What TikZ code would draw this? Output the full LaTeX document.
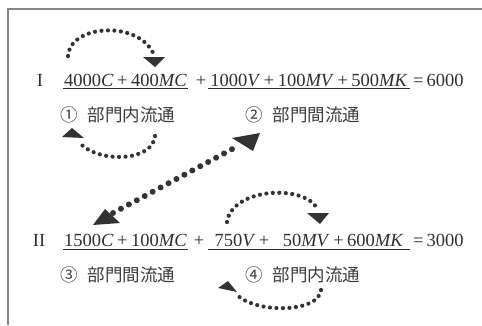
\documentclass[tikz,border=0pt]{standalone}
\usepackage{fontspec}
\setmainfont{Liberation Serif}
\newfontfamily\jpfont{Noto Sans CJK JP}
\definecolor{ink}{HTML}{2E2E2E}
\definecolor{jink}{HTML}{3A3A3A}
\definecolor{dotc}{HTML}{333333}
\definecolor{framec}{HTML}{858585}
\newcommand{\pl}{\hspace{3.5pt}+\hspace{3.5pt}}
\begin{document}
\begin{tikzpicture}[x=1pt,y=-1pt,
  eq/.style={inner sep=0pt, anchor=base, text=ink, font=\fontsize{18.5}{22}\selectfont},
  lbl/.style={inner sep=0pt, anchor=west, text=jink, font=\jpfont\fontsize{17.5}{20}\selectfont},
  uline/.style={draw=ink, line width=0.7pt},
  smalldots/.style={draw=dotc, line width=4.2pt, line cap=round, dash pattern=on 0pt off 6.5pt},
  bigdots/.style={draw=dotc, line width=6pt, line cap=round, dash pattern=on 0pt off 9pt},
  tip/.style={fill=dotc}]
\useasboundingbox (0,0) rectangle (482,325);
% frame
\draw[framec, line width=1.3pt] (8,325) -- (8,9) -- (482,9);

% Row I
\node[eq] (r1) at (40,86.5) {I};
\node[eq] (g1) at (125.5,86.5) {\makebox[125pt]{4000\textit{C}\pl400\textit{MC}}};
\node[eq] (p1) at (201,86.5) {+};
\node[eq] (g2) at (309,86.5) {\makebox[202pt]{1000\textit{V}\pl100\textit{MV}\pl500\textit{MK}}};
\node[eq, anchor=base west] (e1) at (413,86.5) {=\,6000};
\draw[uline] ([yshift=-2.3pt]g1.base west) -- ([yshift=-2.3pt]g1.base east);
\draw[uline] ([yshift=-2.3pt]g2.base west) -- ([yshift=-2.3pt]g2.base east);
\node[lbl] (l1) at (60,115) {①\hspace{10pt}部門内流通};
\node[lbl] (l2) at (245,115) {②\hspace{10pt}部門間流通};

% Row II
\node[eq] (r2) at (39,246.7) {II};
\node[eq] (g3) at (125.5,246.7) {\makebox[125pt]{1500\textit{C}\pl100\textit{MC}}};
\node[eq] (p2) at (199,246.7) {+};
\node[eq] (g4) at (309,246.7) {\makebox[202pt]{750\textit{V}\pl\hspace{10pt}50\textit{MV}\pl600\textit{MK}}};
\node[eq, anchor=base west] (e2) at (413,246.7) {=\,3000};
\draw[uline] ([yshift=-2.3pt]g3.base west) -- ([yshift=-2.3pt]g3.base east);
\draw[uline] ([yshift=-2.3pt]g4.base west) -- ([yshift=-2.3pt]g4.base east);
\node[lbl] (l3) at (60,275) {③\hspace{10pt}部門間流通};
\node[lbl] (l4) at (245,275) {④\hspace{10pt}部門内流通};

% arc 1 (top left)
\coordinate (a1s) at (68,56);
\coordinate (a1e) at (154,55);
\draw[smalldots] (a1s) .. controls (70,24) and (140,20) .. (a1e);
\fill[tip] (143,57) -- (165,57) -- (155,67) -- cycle;

% arc 2 (bottom left)
\coordinate (a2s) at (155,136);
\coordinate (a2e) at (78,141);
\draw[smalldots] (a2s) .. controls (153,162) and (96,164) .. (a2e);
\fill[tip] (62,137) -- (72,128) -- (84,138) -- cycle;

% diagonal
\coordinate (ds) at (113,213);
\coordinate (de) at (238,146);
\draw[bigdots] (ds) -- (de);
\fill[tip] (232,138) -- (260,133) -- (253,151) -- cycle;
\fill[tip] (93,225) -- (105,209) -- (120,223) -- cycle;

% arc 3 (row II top)
\coordinate (a3s) at (227,222);
\coordinate (a3e) at (317,208);
\draw[smalldots] (a3s) .. controls (232,188) and (303,184) .. (a3e);
\fill[tip] (307,213) -- (329,213) -- (320,224) -- cycle;

% arc 4 (row II bottom)
\coordinate (a4s) at (321,290);
\coordinate (a4e) at (236,294);
\draw[smalldots] (a4s) .. controls (319,313) and (255,314) .. (a4e);
\fill[tip] (218,288) -- (228,281) -- (237,292) -- cycle;
\end{tikzpicture}
\end{document}
